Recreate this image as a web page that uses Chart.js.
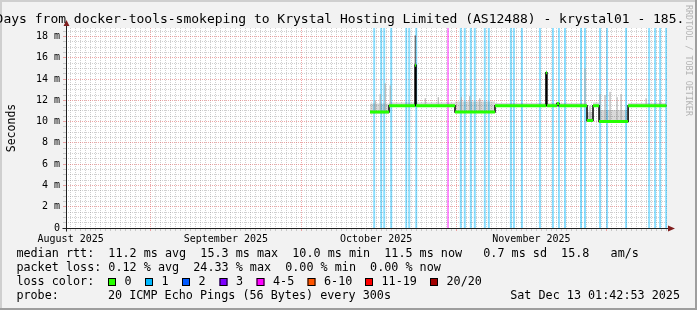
<!DOCTYPE html>
<html>
<head>
<meta charset="utf-8">
<script src="https://cdn.jsdelivr.net/npm/chart.js@4/dist/chart.umd.min.js"></script>
<style>
html, body { margin: 0; padding: 0; background: #f2f2f2; }
canvas { display: block; }
</style>
</head>
<body>
<canvas id="smoke" width="697" height="310"></canvas>
<script>
var FONT = '"DejaVu Sans Mono", "Liberation Mono", monospace'

// x values are days since Aug 15 2025 00:00 (graph: Aug 15 01:42 -> Dec 13 01:42)
var xStart = 0.071, xEnd = 120.071
var yMax = 18.8

var monthStartDays = [17, 47, 78, 108]
var monthLabelDays = [1, 32, 62, 93]
var monthLabels = ['August 2025', 'September 2025', 'October 2025', 'November 2025']

// median rtt (ms), each value holds until the next day entry
var medianDays   = [60.77, 64.57, 69.76, 69.96, 77.74, 85.73, 95.9, 96.1, 98.1, 98.5, 104.1, 105.3, 106.5, 112.3, 119.95]
var medianValues = [10.9,  11.5,  15.3,  11.5,  10.9,  11.5,  14.6, 11.5, 11.7, 11.5, 10.1,  11.5,  10.0,  11.5,  11.5]

// smoke band (ms)
var smokeDays = [60.77, 64.57, 77.74, 85.73, 104.1, 105.3, 106.5, 112.3, 119.95]
var smokeLo   = [10.75, 11.45, 10.8,  11.45, 10.0,  11.45, 9.9,   11.45, 11.45]
var smokeHi   = [11.7,  11.8,  11.9,  11.75, 10.9,  11.8,  11.1,  11.75, 11.75]

// single smoke spikes (ms)
var spikeDays = [61.8, 62.8, 63.8, 64.8, 69.8, 71.8, 74.4, 79.0, 80.7, 82.7, 103.7, 104.7, 106.7, 107.7, 108.7, 110.1, 110.9, 115.9, 118.7]
var spikeLo   = [11.0, 11.0, 11.0, 11.5, 15.3, 11.6, 11.6, 11.0, 11.0, 11.0, 11.5,  10.2,  10.0,  10.0,  10.0,  10.0,  10.0,  11.5,  11.5]
var spikeHi   = [12.0, 12.6, 13.6, 13.4, 18.1, 12.2, 12.3, 12.3, 12.4, 12.2, 15.0,  11.5,  12.6,  12.5,  12.8,  12.3,  12.6,  12.2,  12.0]

// loss events: day and lost pings out of 20
var lossDays   = [61.6, 63.0, 63.6, 65.0, 68.0, 68.6, 70.0, 76.35, 78.9, 79.7, 80.9, 81.7, 83.7, 84.5, 88.9, 89.5, 91.1, 94.7, 97.3, 98.5, 99.7, 102.9, 103.7, 106.7, 108.1, 111.9, 116.5, 117.7, 118.7, 119.9]
var lossCounts = [1,    1,    1,    1,    1,    1,    1,    5,     1,    1,    1,    1,    1,    1,    1,    1,    1,    1,    1,    1,    1,    1,     1,     1,     1,     1,     1,     1,     1,     1]

var lossLabels = ['0', '1', '2', '3', '4-5', '6-10', '11-19', '20/20']
var lossColors = ['#26ff00', '#00b8ff', '#0059ff', '#7e00ff', '#ff00ff', '#ff5500', '#ff0000', '#a10000']

function lossIndex(n) {
  if (n <= 3) return n
  if (n <= 5) return 4
  if (n <= 10) return 5
  if (n <= 19) return 6
  return 7
}

function fade(hex, a) {
  var r = parseInt(hex.substr(1, 2), 16), g = parseInt(hex.substr(3, 2), 16), b = parseInt(hex.substr(5, 2), 16)
  return 'rgba(' + r + ',' + g + ',' + b + ',' + a + ')'
}

function points(days, vals) {
  return days.map(function (d, i) { return {x: d, y: vals[i]} })
}

function vlines(days, lo, hi) {
  var pts = []
  for (var i = 0; i < days.length; i++)
    pts.push({x: days[i], y: lo[i]}, {x: days[i], y: hi[i]}, {x: days[i], y: null})
  return pts
}

function flats(days, vals) {
  var pts = []
  for (var i = 0; i < days.length - 1; i++)
    pts.push({x: days[i], y: vals[i]}, {x: days[i + 1], y: vals[i]}, {x: days[i + 1], y: null})
  return pts
}

var MGRID = 'rgba(222,79,79,0.5)', GRID = 'rgba(143,143,143,0.42)'

var rrdFrame = {
  id: 'rrdFrame',
  beforeDraw: function (chart) {
    var ctx = chart.ctx, a = chart.chartArea, W = chart.width, H = chart.height
    ctx.save()
    ctx.fillStyle = '#f2f2f2'; ctx.fillRect(0, 0, W, H)
    ctx.fillStyle = '#cfcfcf'; ctx.fillRect(0, 0, W, 2); ctx.fillRect(0, 0, 2, H)
    ctx.fillStyle = '#9e9e9e'; ctx.fillRect(0, H - 2, W, 2); ctx.fillRect(W - 2, 0, 2, H)
    ctx.fillStyle = '#ffffff'; ctx.fillRect(a.left, a.top, a.right - a.left, a.bottom - a.top)
    ctx.restore()
  },
  afterDraw: function (chart) {
    var ctx = chart.ctx, a = chart.chartArea
    var x0 = Math.round(a.left) + 0.5, y0 = Math.round(a.bottom) + 0.5
    ctx.save()
    // axes
    ctx.strokeStyle = '#1f1f1f'; ctx.lineWidth = 1
    ctx.beginPath()
    ctx.moveTo(x0, y0 + 3); ctx.lineTo(x0, a.top - 4)
    ctx.moveTo(x0 - 4, y0); ctx.lineTo(a.right + 2, y0)
    ctx.stroke()
    ctx.fillStyle = '#801f1f'
    ctx.beginPath()
    ctx.moveTo(x0, a.top - 8); ctx.lineTo(x0 - 3, a.top - 2); ctx.lineTo(x0 + 3, a.top - 2); ctx.closePath()
    ctx.moveTo(a.right + 8, y0); ctx.lineTo(a.right + 1, y0 - 3); ctx.lineTo(a.right + 1, y0 + 3); ctx.closePath()
    ctx.fill()

    // watermark
    ctx.save()
    ctx.translate(688.5, 5)
    ctx.rotate(Math.PI / 2)
    ctx.font = '8.4px ' + FONT
    ctx.fillStyle = '#b4b4b4'
    ctx.textBaseline = 'middle'
    ctx.fillText('RRDTOOL / TOBI OETIKER', 0, 0)
    ctx.restore()

    // title
    ctx.fillStyle = '#000'
    ctx.textBaseline = 'middle'
    ctx.font = '13px ' + FONT
    ctx.fillText('Days from docker-tools-smokeping to Krystal Hosting Limited (AS12488) - krystal01 - 185.', -4.4, 19.5)

    // legend
    ctx.font = '11.75px ' + FONT
    ctx.fillText('median rtt:  11.2 ms avg  15.3 ms max  10.0 ms min  11.5 ms now   0.7 ms sd  15.8   am/s', 16.4, 254)
    ctx.fillText('packet loss: 0.12 % avg  24.33 % max  0.00 % min  0.00 % now', 16.4, 268)
    ctx.fillText('loss color:', 16.4, 282)
    var boxX = [108, 145, 182, 219.5, 256.5, 307.5, 365, 430]
    for (var i = 0; i < lossLabels.length; i++) {
      ctx.fillStyle = lossColors[i]
      ctx.fillRect(boxX[i], 278, 8, 8)
      ctx.strokeStyle = '#000'
      ctx.strokeRect(boxX[i] + 0.5, 278.5, 7, 7)
      ctx.fillStyle = '#000'
      ctx.fillText(lossLabels[i], boxX[i] + 16.5, 282)
    }
    ctx.fillText('probe:', 16.4, 296)
    ctx.fillText('20 ICMP Echo Pings (56 Bytes) every 300s', 108, 296)
    ctx.textAlign = 'right'
    ctx.fillText('Sat Dec 13 01:42:53 2025', 680, 296)
    ctx.restore()
  }
}

Chart.defaults.font.family = FONT
Chart.defaults.color = '#000'

new Chart(document.getElementById('smoke'), {
  type: 'line',
  data: {
    datasets: [
      { // median, coloured by loss (0 lost)
        data: flats(medianDays, medianValues),
        borderColor: lossColors[0], borderWidth: 3, borderCapStyle: 'butt',
        pointRadius: 0, spanGaps: false, fill: false
      },
      { // median steps
        data: points(medianDays, medianValues),
        stepped: true, borderColor: '#000', borderWidth: 1.5,
        pointRadius: 0, fill: false
      },
      { // smoke spikes
        data: vlines(spikeDays, spikeLo, spikeHi),
        borderColor: '#9a9a9a', borderWidth: 1,
        segment: { borderColor: function (c) { return spikeHi[Math.floor(c.p0DataIndex / 3)] > 17 ? '#444' : '#a8a8a8' } },
        pointRadius: 0, spanGaps: false, fill: false
      },
      { // smoke top
        data: points(smokeDays, smokeHi),
        stepped: true, borderWidth: 0, borderColor: 'rgba(0,0,0,0)',
        backgroundColor: 'rgba(0,0,0,0.15)', pointRadius: 0, fill: 4
      },
      { // smoke bottom
        data: points(smokeDays, smokeLo),
        stepped: true, borderWidth: 0, borderColor: 'rgba(0,0,0,0)',
        pointRadius: 0, fill: false
      },
      { // loss markers
        data: vlines(lossDays, lossDays.map(function () { return 0 }), lossDays.map(function () { return yMax })),
        borderWidth: 2, borderColor: fade(lossColors[1], 0.45),
        segment: { borderColor: function (c) { return fade(lossColors[lossIndex(lossCounts[Math.floor(c.p0DataIndex / 3)])], 0.45) } },
        pointRadius: 0, spanGaps: false, fill: false
      }
    ]
  },
  options: {
    responsive: false,
    animation: false,
    devicePixelRatio: 1,
    events: [],
    layout: { padding: { top: 28, left: 0, right: 30, bottom: 0 } },
    plugins: { legend: { display: false }, title: { display: false }, tooltip: { enabled: false } },
    scales: {
      x: {
        type: 'linear', min: xStart, max: xEnd, offset: false,
        afterBuildTicks: function (s) {
          var t = []
          for (var d = 1; d <= 120; d++) t.push({value: d})
          s.ticks = t
        },
        afterFit: function (s) { s.height = 82 },
        ticks: {
          autoSkip: false, maxRotation: 0, minRotation: 0, padding: 2,
          font: { size: 10 },
          callback: function (v) { var i = monthLabelDays.indexOf(v); return i >= 0 ? monthLabels[i] : '' }
        },
        grid: {
          offset: false, tickLength: 3, lineWidth: 1,
          color: function (c) { return c.tick && monthStartDays.indexOf(c.tick.value) >= 0 ? MGRID : GRID },
          tickColor: function (c) { return c.tick && monthStartDays.indexOf(c.tick.value) >= 0 ? MGRID : GRID }
        },
        border: { display: false, dash: [1, 1] }
      },
      y: {
        type: 'linear', min: 0, max: yMax, stacked: false,
        afterBuildTicks: function (s) {
          var t = []
          for (var v = 0; v <= 18.5; v += 0.5) t.push({value: v})
          s.ticks = t
        },
        afterFit: function (s) { s.width = 66 },
        ticks: {
          autoSkip: false, padding: 3, font: { size: 10 },
          callback: function (v) { return v % 2 === 0 ? (v === 0 ? '0' : v + ' m') : '' }
        },
        title: { display: true, text: 'Seconds', font: { size: 11.5 }, padding: { top: 5, bottom: 0 } },
        grid: {
          tickLength: 3, lineWidth: 1,
          color: function (c) { return c.tick && c.tick.value % 2 === 0 ? MGRID : GRID },
          tickColor: function (c) { return c.tick && c.tick.value % 2 === 0 ? MGRID : GRID }
        },
        border: { display: false, dash: [1, 1] }
      }
    }
  },
  plugins: [rrdFrame]
})
</script>
</body>
</html>
